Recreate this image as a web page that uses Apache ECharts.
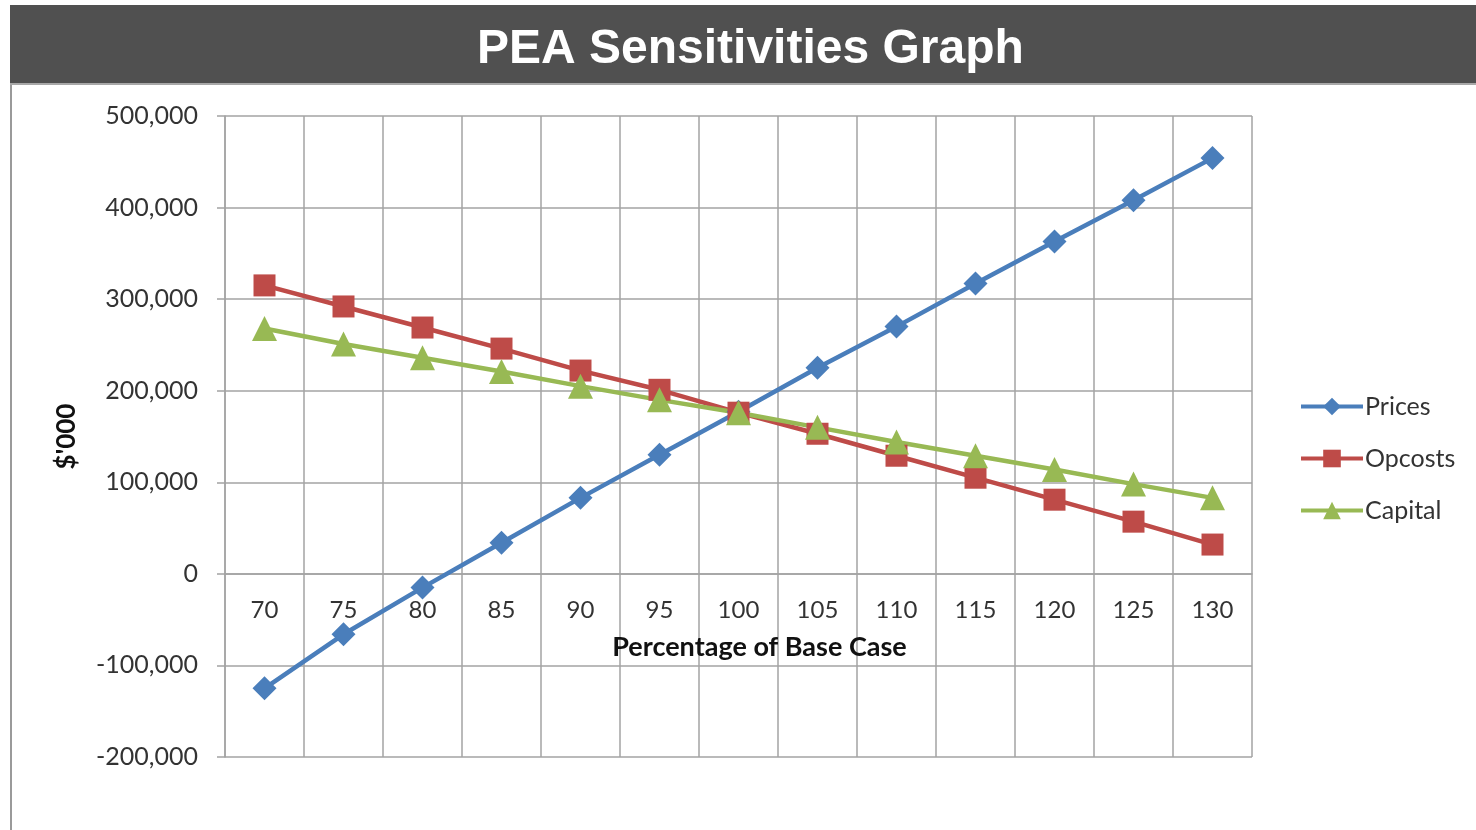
<!DOCTYPE html>
<html>
<head>
<meta charset="utf-8">
<title>PEA Sensitivities Graph</title>
<script src="https://cdn.jsdelivr.net/npm/echarts@6/dist/echarts.min.js"></script>
<style>
  html, body { margin: 0; padding: 0; background: #ffffff; }
  #chart { width: 1476px; height: 830px; }
</style>
</head>
<body>
<div id="chart"></div>
<script>
// Percentage of base case (x axis categories)
const categories = ['70', '75', '80', '85', '90', '95', '100', '105', '110', '115', '120', '125', '130'];

// NPV in $'000 for each sensitivity
const prices  = [-125000, -66000, -15000, 34000, 83000, 130000, 177000, 225000, 270000, 317000, 363000, 408000, 454000];
const opcosts = [315000, 292000, 269000, 246000, 222000, 201000, 176000, 153000, 129000, 105000, 81000, 57000, 32000];
const capital = [268000, 251000, 236000, 221000, 205000, 190000, 176000, 160000, 144000, 129000, 114000, 98000, 83000];

// Value axis range
const yMin = -200000;
const yMax = 500000;
const yStep = 100000;

const W = 1476, H = 830;
const gridBox = { left: 225, right: 224, top: 116, bottom: 73 };
const plotHeight = H - gridBox.top - gridBox.bottom;
// the category axis sits on the zero line of the value axis
const zeroOffset = -plotHeight * (0 - yMin) / (yMax - yMin);

const chart = echarts.init(document.getElementById('chart'));

const gridColor = '#a3a3a3';
const labelFont = 'Lato, "Open Sans", sans-serif';

function makeSeries(name, data, color, symbol, size) {
  return {
    name: name,
    type: 'line',
    data: data,
    symbol: symbol,
    symbolSize: size,
    showAllSymbol: true,
    lineStyle: { color: color, width: 4.5 },
    itemStyle: { color: color },
    emphasis: { disabled: true },
    z: 3
  };
}

chart.setOption({
  animation: false,
  backgroundColor: '#ffffff',
  graphic: [
    { type: 'rect', shape: { x: 10, y: 5, width: 1466, height: 78 }, style: { fill: '#505050' }, z: -1 },
    { type: 'rect', shape: { x: 10, y: 83, width: 1466, height: 2 }, style: { fill: '#a8a8a8' }, z: -1 },
    { type: 'rect', shape: { x: 10, y: 85, width: 2, height: 745 }, style: { fill: '#9a9a9a' }, z: -1 },
    {
      type: 'text', left: 477, top: 26,
      style: {
        text: 'PEA Sensitivities Graph',
        fill: '#ffffff',
        font: 'bold 48px "Liberation Sans", Arial, sans-serif'
      }
    }
  ],
  legend: {
    orient: 'vertical',
    left: 1294,
    top: 389,
    itemWidth: 62,
    itemHeight: 22,
    itemGap: 27,
    selectedMode: false,
    lineStyle: { width: 4 },
    textStyle: { fontFamily: labelFont, fontSize: 25, color: '#333333', padding: [0, 0, 0, -3] },
    data: ['Prices', 'Opcosts', 'Capital']
  },
  grid: Object.assign({ containLabel: false, outerBoundsMode: 'none' }, gridBox),
  xAxis: {
    type: 'category',
    data: categories,
    boundaryGap: true,
    position: 'bottom',
    offset: zeroOffset,
    name: 'Percentage of Base Case',
    nameLocation: 'middle',
    nameGap: 60,
    nameTextStyle: { fontFamily: labelFont, fontSize: 27, fontWeight: 'bold', color: '#111111', padding: [0, 0, 0, 42] },
    axisLine: { onZero: false, lineStyle: { color: gridColor, width: 1.5 } },
    axisTick: { show: false },
    axisLabel: { fontFamily: labelFont, fontSize: 24, color: '#333333', margin: 24, interval: 0 },
    splitLine: { show: true, interval: 0, lineStyle: { color: gridColor, width: 1.5 } }
  },
  yAxis: {
    type: 'value',
    min: yMin,
    max: yMax,
    interval: yStep,
    name: "$'000",
    nameLocation: 'middle',
    nameGap: 145,
    nameTextStyle: { fontFamily: labelFont, fontSize: 26, fontWeight: 'bold', color: '#111111' },
    axisLine: { show: true, lineStyle: { color: gridColor, width: 1.5 } },
    axisTick: { show: true, length: 8, lineStyle: { color: gridColor, width: 1.5 } },
    axisLabel: {
      fontFamily: labelFont, fontSize: 25, color: '#333333', margin: 27,
      formatter: v => v.toLocaleString('en-US')
    },
    splitLine: { show: true, lineStyle: { color: gridColor, width: 1.5 } }
  },
  series: [
    makeSeries('Prices', prices, '#4a7ebb', 'diamond', 24),
    makeSeries('Opcosts', opcosts, '#be4b48', 'rect', 22),
    makeSeries('Capital', capital, '#98b954', 'triangle', 25)
  ]
});
</script>
</body>
</html>
